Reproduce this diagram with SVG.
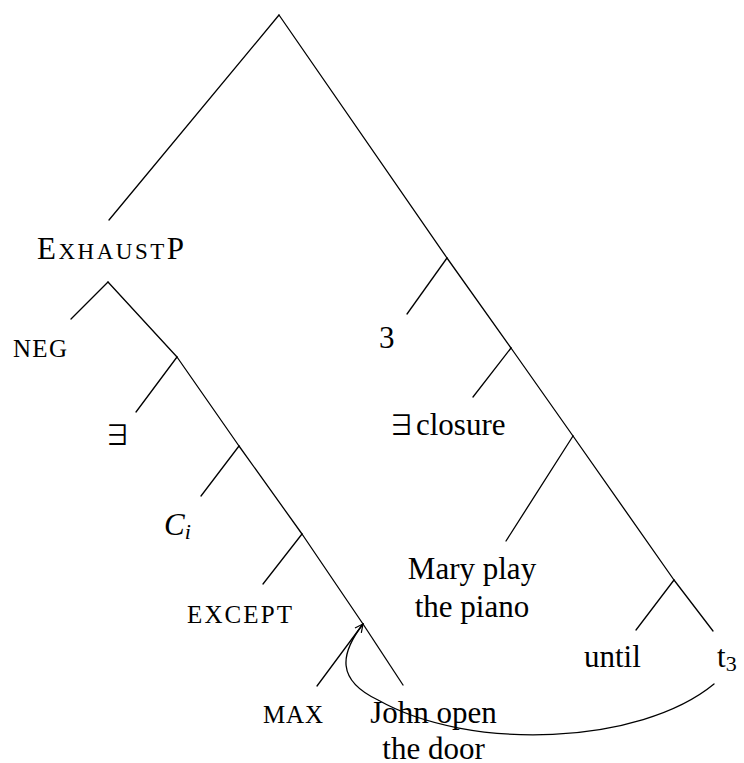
<svg xmlns="http://www.w3.org/2000/svg" width="744" height="763" viewBox="0 0 744 763">
<style>
  .e { stroke: #000; stroke-width: 1.3; fill: none; stroke-linecap: round; }
  text { font-family: "Liberation Serif", "Times New Roman", serif; font-size: 31px; fill: #000; }
  .sc { font-size: 25px; }
  .ex { font-family: "Noto Sans CJK JP", "DejaVu Serif", serif; font-size: 27px; }
  .sub { font-size: 22px; }
</style>
<defs>
  <marker id="arr" markerUnits="userSpaceOnUse" markerWidth="12" markerHeight="12" refX="9" refY="5" orient="auto-start-reverse">
    <path d="M1,1 L9,5 L1,9" fill="none" stroke="#000" stroke-width="1.2"/>
  </marker>
</defs>
<rect width="744" height="763" fill="#fff"/>
<g id="connectors">
  <line class="e" x1="279" y1="15" x2="109" y2="220"/>
  <line class="e" x1="279" y1="15" x2="447" y2="258"/>
  <line class="e" x1="447" y1="258" x2="407" y2="314"/>
  <line class="e" x1="447" y1="258" x2="511" y2="348"/>
  <line class="e" x1="511" y1="348" x2="473" y2="397"/>
  <line class="e" x1="511" y1="348" x2="573" y2="436"/>
  <line class="e" x1="573" y1="436" x2="506" y2="541"/>
  <line class="e" x1="573" y1="436" x2="674" y2="580"/>
  <line class="e" x1="674" y1="580" x2="636" y2="630"/>
  <line class="e" x1="674" y1="580" x2="713" y2="631"/>
  <line class="e" x1="108" y1="282" x2="71" y2="319"/>
  <line class="e" x1="108" y1="282" x2="177" y2="357"/>
  <line class="e" x1="177" y1="357" x2="136" y2="412"/>
  <line class="e" x1="177" y1="357" x2="239" y2="446"/>
  <line class="e" x1="239" y1="446" x2="201" y2="496"/>
  <line class="e" x1="239" y1="446" x2="302" y2="534"/>
  <line class="e" x1="302" y1="534" x2="263" y2="584"/>
  <line class="e" x1="302" y1="534" x2="363" y2="624"/>
  <line class="e" x1="363" y1="624" x2="317" y2="686"/>
  <line class="e" x1="363" y1="624" x2="403" y2="685"/>
  <path class="e" d="M363,624 C340,654 336,680 378,700 C470,752 640,745 714,684" marker-start="url(#arr)" stroke-width="1.1"/>
</g>
<g id="node-exhaustp">
  <text x="37" y="259" textLength="147" lengthAdjust="spacing">E<tspan font-size="23">XHAUST</tspan>P</text>
</g>
<g id="node-neg"><text class="sc" x="13" y="357" textLength="54" lengthAdjust="spacing">NEG</text></g>
<g id="node-exists"><text class="ex" x="104" y="445">∃</text></g>
<g id="node-ci"><text x="164" y="535" font-style="italic">C<tspan class="sub" dy="4">i</tspan></text></g>
<g id="node-except"><text class="sc" x="187" y="623" textLength="105" lengthAdjust="spacing">EXCEPT</text></g>
<g id="node-max"><text class="sc" x="263" y="723" textLength="60" lengthAdjust="spacing">MAX</text></g>
<g id="node-john"><text x="433.5" y="723" text-anchor="middle">John open</text><text x="433.5" y="759" text-anchor="middle">the door</text></g>
<g id="node-3"><text x="379" y="348">3</text></g>
<g id="node-closure"><text x="388" y="435"><tspan class="ex">∃</tspan><tspan x="416">closure</tspan></text></g>
<g id="node-mary"><text x="472" y="579" text-anchor="middle">Mary play</text><text x="472" y="617" text-anchor="middle">the piano</text></g>
<g id="node-until"><text x="584" y="667">until</text></g>
<g id="node-t3"><text x="717" y="667">t<tspan class="sub" dy="4">3</tspan></text></g>
</svg>
